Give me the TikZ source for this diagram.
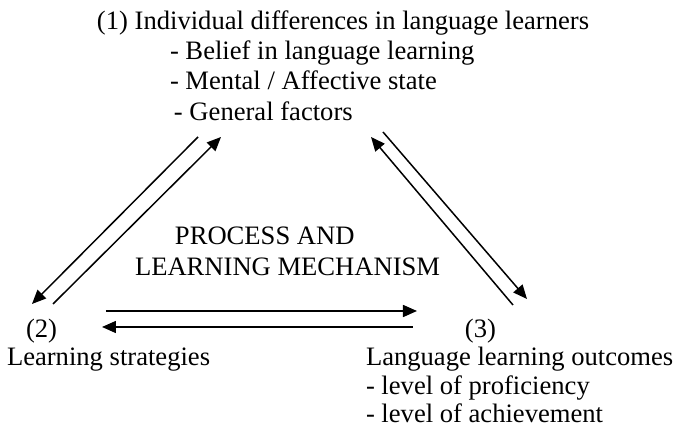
\documentclass[tikz,border=0pt]{standalone}
\usepackage{fontspec}
\setmainfont{Liberation Serif}
\usetikzlibrary{arrows.meta}

\tikzset{
  txt/.style={inner sep=0pt,outer sep=0pt,anchor=base west},
  arr/.style={line width=0.75pt,-{Triangle[length=7pt,width=6pt]}},
  line/.style={line width=0.75pt}
}

\begin{document}
\begin{tikzpicture}[x=0.5pt,y=-0.5pt,font=\fontsize{13.3}{15}\selectfont]
\useasboundingbox (0,0) rectangle (677,432);

\node [txt] (t1) at (97,30) {(1) Individual differences in language learners};
\def\tlist{2/170/60/{Belief in language learning},3/170/90/{Mental / Affective state},4/174/121/{General factors}}
\foreach \i/\x/\y/\element in \tlist
  \node [txt] (t\i) at (\x,\y) {- \element};

\node [txt] (m1) at (175,245) {PROCESS AND};
\node [txt] (m2) at (135,276) {LEARNING MECHANISM};

\node [txt] (n2) at (26,338) {(2)};
\node [txt] (s2) at (7,366) {Learning strategies};

\node [txt] (n3) at (465,338) {(3)};
\def\olist{1/366/{Language learning outcomes},2/395/{- level of proficiency},3/423/{- level of achievement}}
\foreach \i/\y/\element in \olist
  \node [txt] (o\i) at (366,\y) {\element};

\coordinate (la) at (198,137);
\coordinate (lb) at (32,304);
\coordinate (lc) at (53,304);
\coordinate (ld) at (221,137);
\coordinate (ra) at (383,132);
\coordinate (rb) at (527,299);
\coordinate (rc) at (513,305);
\coordinate (rd) at (371,137);
\coordinate (ha) at (106,311);
\coordinate (hb) at (417,311);
\coordinate (hc) at (413,327);
\coordinate (hd) at (102,327);

\draw [arr] (la) -- (lb);
\draw [arr] (lc) -- (ld);
\draw [arr] (ra) -- (rb);
\draw [arr] (rc) -- (rd);
\draw [arr] (ha) -- (hb);
\draw [arr] (hc) -- (hd);

\end{tikzpicture}
\end{document}
